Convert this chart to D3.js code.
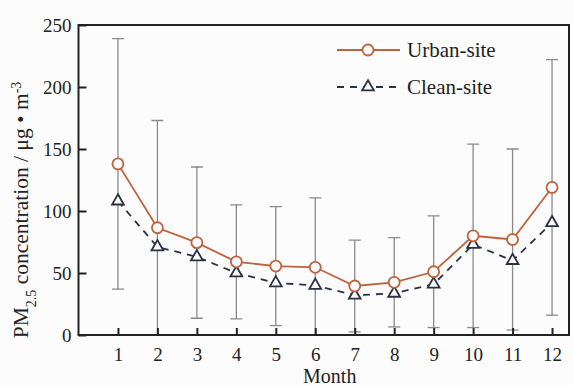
<!DOCTYPE html>
<html>
<head>
<meta charset="utf-8">
<script src="https://cdn.jsdelivr.net/npm/d3@7"></script>
<style>
  html, body { margin: 0; padding: 0; background: #fcfcfc; }
  svg { display: block; font-family: "Liberation Serif", "Times New Roman", serif; }
</style>
</head>
<body>
<svg id="chart" width="573" height="386"></svg>
<script>
// Monthly mean PM2.5 (µg/m³) at the two sites, with the urban-site standard deviation
const months = [1, 2, 3, 4, 5, 6, 7, 8, 9, 10, 11, 12];
const urbanSite = [138, 86.5, 74.5, 59, 55.6, 54.6, 39.5, 42.5, 51, 80, 77, 119];
const cleanSite = [108, 71, 63, 50, 42, 40, 32, 33.6, 41, 73, 60, 90.5];
const urbanSD = [101, 86.5, 61, 46, 48, 56, 37, 36, 45, 74, 73, 103];
const yTicks = [0, 50, 100, 150, 200, 250];
const seriesNames = ["Urban-site", "Clean-site"];

const svg = d3.select("#chart");
const plotL = 78.5, plotR = 569, plotT = 25, plotB = 335;

const x = d3.scaleLinear().domain([0, 12.43]).range([plotL, plotR]);
const y = d3.scaleLinear().domain([0, 250]).range([plotB, plotT]);

const urbanColor = "#c0623d";
const cleanColor = "#2a3142";
const axisColor = "#222";

// clip for the error bars so they stop at the frame
svg.append("defs").append("clipPath").attr("id", "plotClip")
  .append("rect").attr("x", plotL).attr("y", plotT).attr("width", plotR - plotL).attr("height", plotB - plotT);

// error bars
const eb = svg.append("g").attr("clip-path", "url(#plotClip)")
  .attr("stroke", "#8a8a8a").attr("stroke-width", 1.3).attr("fill", "none");
months.forEach((m, i) => {
  const hi = urbanSite[i] + urbanSD[i];
  const lo = urbanSite[i] - urbanSD[i];
  eb.append("line").attr("x1", x(m)).attr("x2", x(m)).attr("y1", y(hi)).attr("y2", y(lo));
  eb.append("line").attr("x1", x(m) - 6).attr("x2", x(m) + 6).attr("y1", y(hi)).attr("y2", y(hi));
  eb.append("line").attr("x1", x(m) - 6).attr("x2", x(m) + 6).attr("y1", y(lo)).attr("y2", y(lo));
});

// axes (ticks point inward)
const xAxis = d3.axisBottom(x).tickValues(months).tickSize(-7).tickPadding(13).tickFormat(d3.format("d"));
const yAxis = d3.axisLeft(y).tickValues(yTicks).tickSize(-8).tickPadding(7);

const gx = svg.append("g").attr("transform", `translate(0,${plotB})`).call(xAxis);
const gy = svg.append("g").attr("transform", `translate(${plotL},0)`).call(yAxis);
[gx, gy].forEach(g => {
  g.select(".domain").remove();
  g.selectAll(".tick line").attr("stroke", axisColor).attr("stroke-width", 2);
  g.selectAll(".tick text").attr("fill", "#222").style("font-size", "19px")
    .style("font-family", "'Liberation Serif', serif");
});

// frame
svg.append("rect").attr("x", plotL).attr("y", plotT).attr("width", plotR - plotL).attr("height", plotB - plotT)
  .attr("fill", "none").attr("stroke", axisColor).attr("stroke-width", 2);

// series lines
const line = (vals) => d3.line().x((d, i) => x(months[i])).y(d => y(d))(vals);

svg.append("path").attr("d", line(cleanSite)).attr("fill", "none")
  .attr("stroke", cleanColor).attr("stroke-width", 1.8).attr("stroke-dasharray", "7,6");
svg.append("path").attr("d", line(urbanSite)).attr("fill", "none")
  .attr("stroke", urbanColor).attr("stroke-width", 1.8);

const tri = d3.symbol().type(d3.symbolTriangle).size(60);
svg.append("g").selectAll("path").data(cleanSite).join("path")
  .attr("d", tri)
  .attr("transform", (d, i) => `translate(${x(months[i])},${y(d)})`)
  .attr("fill", "#fcfcfc").attr("stroke", cleanColor).attr("stroke-width", 1.8);

svg.append("g").selectAll("circle").data(urbanSite).join("circle")
  .attr("cx", (d, i) => x(months[i])).attr("cy", d => y(d)).attr("r", 5.5)
  .attr("fill", "#fcfcfc").attr("stroke", urbanColor).attr("stroke-width", 1.8);

// legend
const lg = svg.append("g");
lg.append("line").attr("x1", 337).attr("x2", 400).attr("y1", 50).attr("y2", 50)
  .attr("stroke", urbanColor).attr("stroke-width", 1.8);
lg.append("circle").attr("cx", 368).attr("cy", 50).attr("r", 5.5)
  .attr("fill", "#fcfcfc").attr("stroke", urbanColor).attr("stroke-width", 1.8);
lg.append("text").attr("x", 407).attr("y", 57).text(seriesNames[0])
  .style("font-size", "21px").attr("fill", "#222");

lg.append("line").attr("x1", 337).attr("x2", 400).attr("y1", 87).attr("y2", 87)
  .attr("stroke", cleanColor).attr("stroke-width", 1.8).attr("stroke-dasharray", "7,6");
lg.append("path").attr("d", tri).attr("transform", "translate(368,87)")
  .attr("fill", "#fcfcfc").attr("stroke", cleanColor).attr("stroke-width", 1.8);
lg.append("text").attr("x", 407).attr("y", 94).text(seriesNames[1])
  .style("font-size", "21px").attr("fill", "#222");

// axis titles
svg.append("text").attr("x", (plotL + plotR) / 2 + 6).attr("y", 383)
  .attr("text-anchor", "middle").style("font-size", "20px").attr("fill", "#222").text("Month");

const yt = svg.append("text").attr("transform", "translate(28,210) rotate(-90)")
  .attr("text-anchor", "middle").style("font-size", "21.5px").attr("fill", "#222");
yt.append("tspan").text("PM");
yt.append("tspan").attr("baseline-shift", "sub").style("font-size", "14px").text("2.5");
yt.append("tspan").text(" concentration / μg • m");
yt.append("tspan").attr("baseline-shift", "super").style("font-size", "14px").text("-3");
</script>
</body>
</html>
